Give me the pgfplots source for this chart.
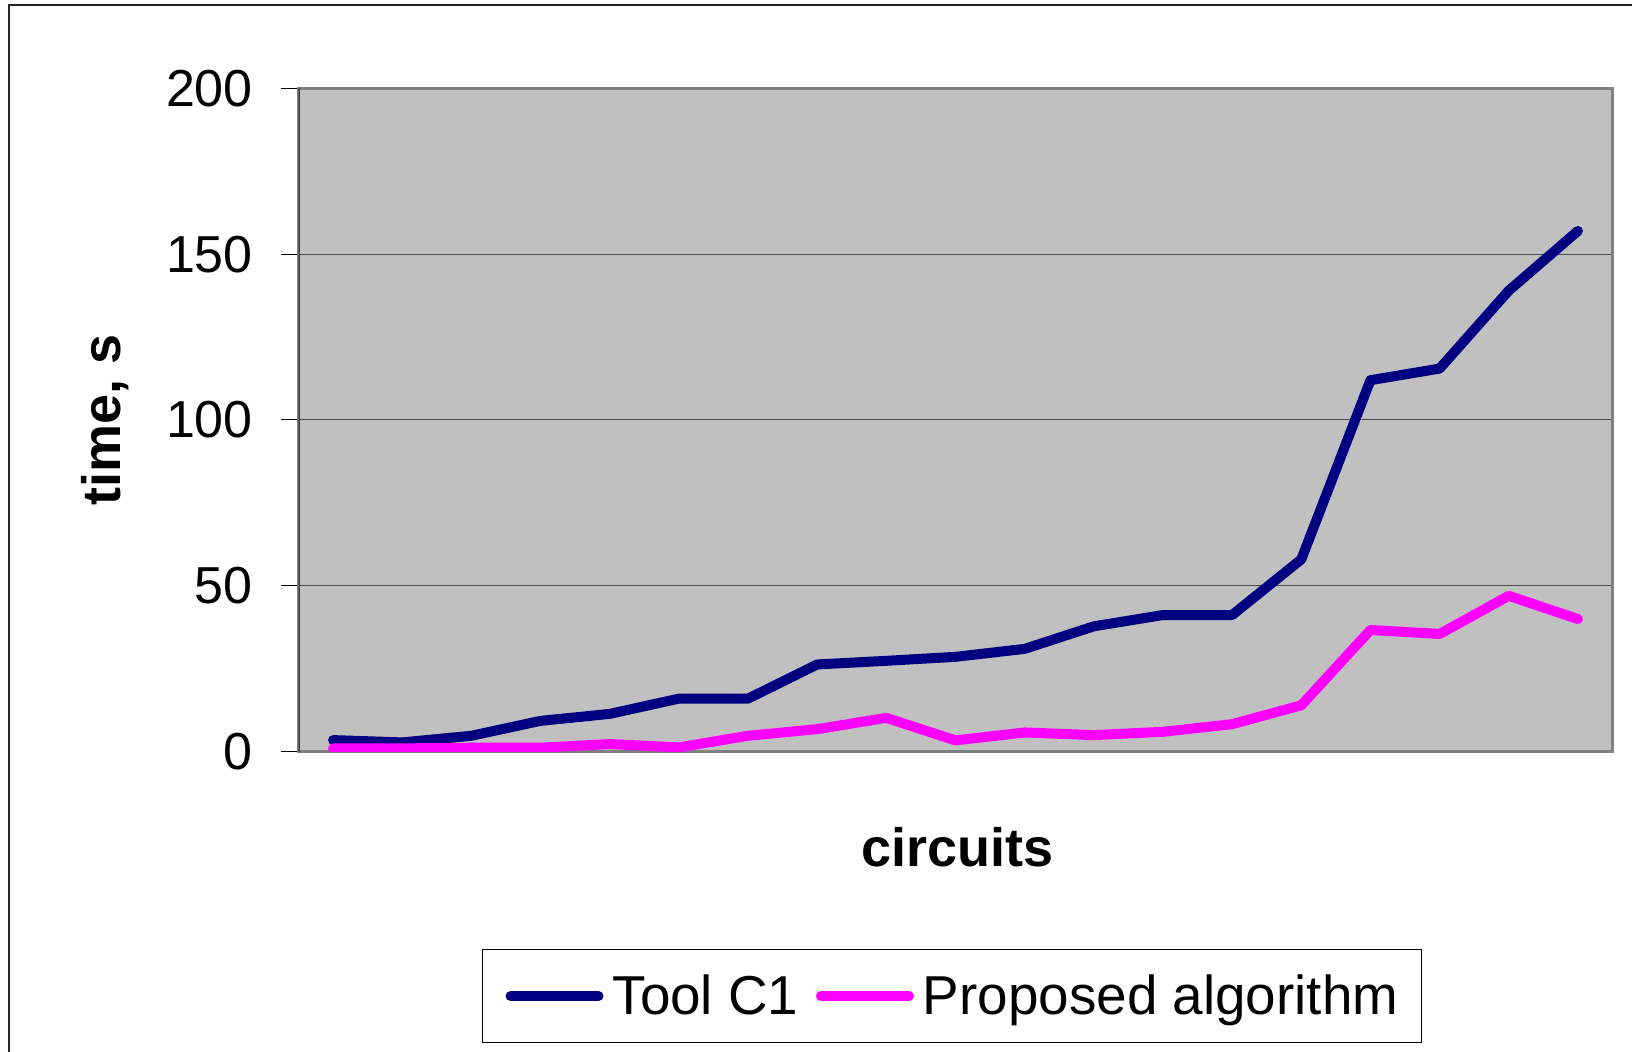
\documentclass[border=0pt]{standalone}
\usepackage{pgfplots}
\pgfplotsset{compat=1.18}
\usepackage{fontspec}
\setmainfont{Liberation Sans}
\definecolor{navyc}{RGB}{0,0,128}
\definecolor{magc}{RGB}{255,0,255}
\definecolor{silverc}{RGB}{192,192,192}
\definecolor{grayc}{RGB}{128,128,128}
\begin{document}
\begin{tikzpicture}[x=1cm,y=1cm]
\useasboundingbox (0,0) rectangle (16.32,10.51);
\fill[white] (0,0) rectangle (16.32,10.51);
\draw[black!85, line width=0.18mm] (0.093,-0.5) -- (0.093,10.46) -- (17,10.46);
\begin{axis}[
  at={(2.985cm,2.993cm)}, anchor=south west,
  width=13.14cm, height=6.634cm, scale only axis,
  xmin=0.5, xmax=19.5, ymin=0, ymax=200,
  xtick=\empty,
  ytick={0,50,100,150,200},
  ytick pos=left,
  tick align=outside,
  major tick length=1.8mm,
  ytick style={black, line width=0.1mm},
  ymajorgrids,
  grid style={black!70, line width=0.1mm},
  axis background/.style={fill=silverc},
  axis line style={draw=grayc, line width=0.3mm},
  /pgf/number format/assume math mode=true,
  yticklabel style={anchor=east, inner sep=0pt, xshift=-2.7mm, font=\fontsize{14.8}{17}\selectfont},
  every axis y label/.style={at={(axis description cs:-0.1358,0.5)}, rotate=90, anchor=base},
  every axis x label/.style={at={(axis description cs:0.5015,-0.1735)}, anchor=base},
  ylabel={\fontsize{15.36}{18}\selectfont\bfseries time, s},
  xlabel={\fontsize{15.36}{18}\selectfont\bfseries circuits},
  legend columns=2,
  legend cell align=left,
  legend image code/.code={\draw[#1, line cap=round] (0cm,0cm) -- (0.88cm,0cm);},
  legend style={at={(0.4973,-0.439)}, anchor=south,
    draw=black, line width=0.1mm,
    inner xsep=2.35mm, inner ysep=2.1mm,
    font=\fontsize{15.6}{18}\selectfont,
    column sep=0pt,
    /tikz/every odd column/.append style={column sep=0.9mm},
    /tikz/every even column/.append style={column sep=1.75mm},
    nodes={inner sep=0pt, text height=1.226em, text depth=0.21em}},
]
\draw[black!80, line width=0.2mm] (rel axis cs:0,0) -- (rel axis cs:0,1);
\addplot[navyc, line width=1mm, line join=round, line cap=round] coordinates {
(1,3.5) (2,2.8) (3,4.8) (4,9.3) (5,11.4) (6,16) (7,16) (8,26.3) (9,27.4) (10,28.6)
(11,31) (12,37.8) (13,41.2) (14,41.2) (15,58) (16,112) (17,115.5) (18,139) (19,157)};
\addlegendentry{Tool C1}
\addplot[magc, line width=1mm, line join=round, line cap=round] coordinates {
(1,1) (2,1) (3,1.2) (4,1.2) (5,2.3) (6,1.3) (7,4.8) (8,6.8) (9,10.2) (10,3.4)
(11,5.8) (12,5) (13,6) (14,8.3) (15,14) (16,36.7) (17,35.5) (18,47) (19,40)};
\addlegendentry{Proposed algorithm}
\end{axis}
\end{tikzpicture}
\end{document}
